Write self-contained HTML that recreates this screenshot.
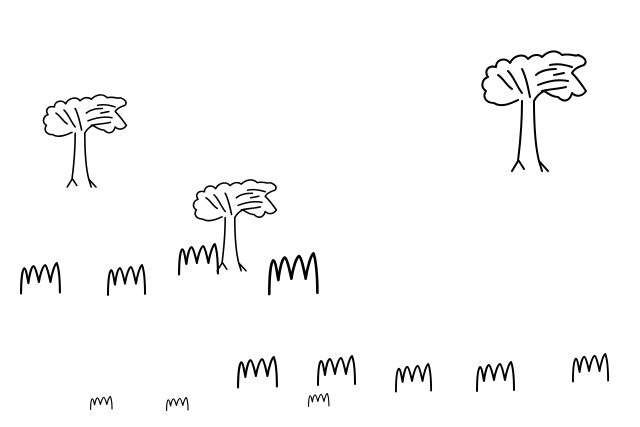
<!DOCTYPE html>
<html><head><meta charset="utf-8"><style>
html,body{margin:0;padding:0;background:#fff;width:640px;height:427px;overflow:hidden}
svg{display:block}
</style></head><body>
<svg width="640" height="427" viewBox="0 0 640 427">
<defs>
<g id="tree" fill="none" stroke="#000" stroke-width="2" stroke-linejoin="round" stroke-linecap="round">
  <path d="M40,55 C30,60 22,62 16,58 C8,58 4,52 8,46 C2,42 4,34 10,32 C6,26 10,20 18,22 C18,14 28,12 32,18 C36,10 46,8 50,14 C56,8 62,10 64,12 C70,6 78,4 84,10 C92,8 98,12 100,10 C106,12 110,16 106,20 C100,22 96,24 94,28 C98,32 104,40 108,46 C104,52 98,52 94,48 C92,56 86,58 80,52 C74,52 70,48 66,46 C62,48 58,52 56,56"/>
  <path d="M44,56 C44,80 42,100 40,116 L34,126"/>
  <path d="M41,116 L46,124"/>
  <path d="M56,56 C56,80 57,100 61,116 L70,126"/>
  <path d="M61,116 L64,126"/>
  <path d="M20,30 C26,34 28,40 34,44"/>
  <path d="M30,26 C36,32 38,40 44,48"/>
  <path d="M44,24 C48,32 50,42 52,52"/>
  <path d="M58,30 C62,26 70,24 78,24"/>
  <path d="M60,40 C70,36 80,34 90,36"/>
  <path d="M64,46 C72,44 80,44 88,42"/>
  <path d="M72,20 C80,18 88,20 94,22"/>
  <path d="M76,30 L86,28"/>
</g>
<path id="grass" fill="none" stroke="#000" stroke-width="2" stroke-linejoin="round" stroke-linecap="round" d="M1,30 C1,18 2,8 4,6 C6,6 7,16 8,20 C9,12 11,4 13,4 C15,5 17,15 18,19 C19,12 22,3 24,3 C26,4 28,15 29,19 C30,12 33,2 35,1 C37,6 38,18 38,29"/>
</defs>
<use href="#tree" transform="translate(40,90) scale(0.8,0.77)"/>
<use href="#tree" transform="translate(190,175) scale(0.8,0.76)"/>
<use href="#tree" transform="translate(478,45)"/>
<use href="#grass" transform="translate(20,262) scale(1.05,1.05)"/>
<use href="#grass" transform="translate(107,264) scale(1,1.03)"/>
<use href="#grass" transform="translate(178,243) scale(1.05,1.05)"/>
<use href="#grass" transform="translate(268,252) scale(1.3,1.4)"/>
<use href="#grass" transform="translate(237,356) scale(1.05,1.05)"/>
<use href="#grass" transform="translate(317,355) scale(1,1)"/>
<use href="#grass" transform="translate(395,363) scale(0.95,0.95)"/>
<use href="#grass" transform="translate(476,361) scale(1,1)"/>
<use href="#grass" transform="translate(572,353) scale(0.95,0.95)"/>
<use href="#grass" transform="translate(90,396) scale(0.58,0.45)"/>
<use href="#grass" transform="translate(166,397) scale(0.58,0.45)"/>
<use href="#grass" transform="translate(308,393) scale(0.55,0.45)"/>
</svg>
</body></html>
